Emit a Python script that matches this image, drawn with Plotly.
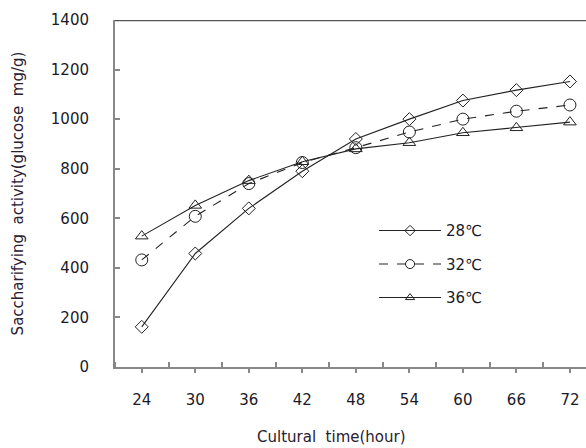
import plotly.graph_objects as go

hours = [24, 30, 36, 42, 48, 54, 60, 66, 72]
t28 = [162, 458, 640, 790, 920, 1000, 1075, 1117, 1152]
t32 = [432, 608, 740, 825, 885, 948, 1000, 1032, 1057]
t36 = [528, 652, 752, 828, 880, 905, 945, 965, 988]
names = ["28℃", "32℃", "36℃"]

FONT = "DejaVu Sans, sans-serif"
series = [t28, t32, t36]
symbols = ["diamond-open", "circle-open", "triangle-up-open"]
sizes = [10, 12, 11]
legend_sizes = [8, 9, 8]
dashes = ["solid", "dash", "solid"]

fig = go.Figure()
for vals, sym, sz, ds in zip(series, symbols, sizes, dashes):
    fig.add_trace(go.Scatter(x=hours, y=vals, mode="lines+markers", showlegend=False,
                             line=dict(color="#222", width=1.1, dash=ds),
                             marker=dict(symbol=sym, size=sz, color="#222", line=dict(width=1))))
for i, (nm, sym, sz, ds) in enumerate(zip(names, symbols, legend_sizes, dashes)):
    fig.add_trace(go.Scatter(x=[None], y=[None], name=nm, mode="lines+markers",
                             legendgroup=str(i),
                             line=dict(color="#222", width=1.1, dash=ds),
                             marker=dict(symbol=sym, size=sz, color="#222", line=dict(width=1))))

fig.add_shape(type="line", xref="x domain", yref="y", x0=0, x1=1, y0=1400, y1=1400,
              line=dict(color="#555", width=2.5))

fig.add_annotation(text="Cultural  time(hour)", xref="paper", yref="paper",
                   x=(331 - 115) / 471, y=-70 / 347, xanchor="center", yanchor="middle",
                   showarrow=False,
                   font=dict(family=FONT, size=15, color="#2a2030"))

fig.update_layout(
    width=586, height=448,
    margin=dict(l=115, r=0, t=20, b=81),
    paper_bgcolor="white", plot_bgcolor="white",
    font=dict(family=FONT, size=15, color="#1a1a2a"),
    showlegend=True,
    legend=dict(x=0.55, y=0.44, xanchor="left", yanchor="top", traceorder="grouped",
                bgcolor="rgba(0,0,0,0)", font=dict(size=15), tracegroupgap=11,
                itemwidth=62),
    xaxis=dict(range=[21, 73.8], tickvals=hours, ticktext=[str(h) for h in hours],
               ticks="outside", ticklen=4, tickcolor="#888", tickwidth=1.5,
               showline=True, linecolor="#888", linewidth=2, showgrid=False, zeroline=False,
               ticklabelstandoff=14, tickfont=dict(size=15),
               minor=dict(dtick=6, tick0=21, ticks="inside", ticklen=5, tickcolor="#888",
                          tickwidth=1.5, showgrid=False)),
    yaxis=dict(range=[0, 1400], dtick=200, ticks="inside", ticklen=5, tickcolor="#888",
               tickwidth=1.5, showline=True, linecolor="#888", linewidth=2,
               showgrid=False, zeroline=False, ticklabelstandoff=21, tickfont=dict(size=15),
               title=dict(text="Saccharifying  activity(glucose  mg/g)", standoff=24,
                          font=dict(family=FONT, size=15, color="#2a2030"))),
)

fig.write_html("out.html")
